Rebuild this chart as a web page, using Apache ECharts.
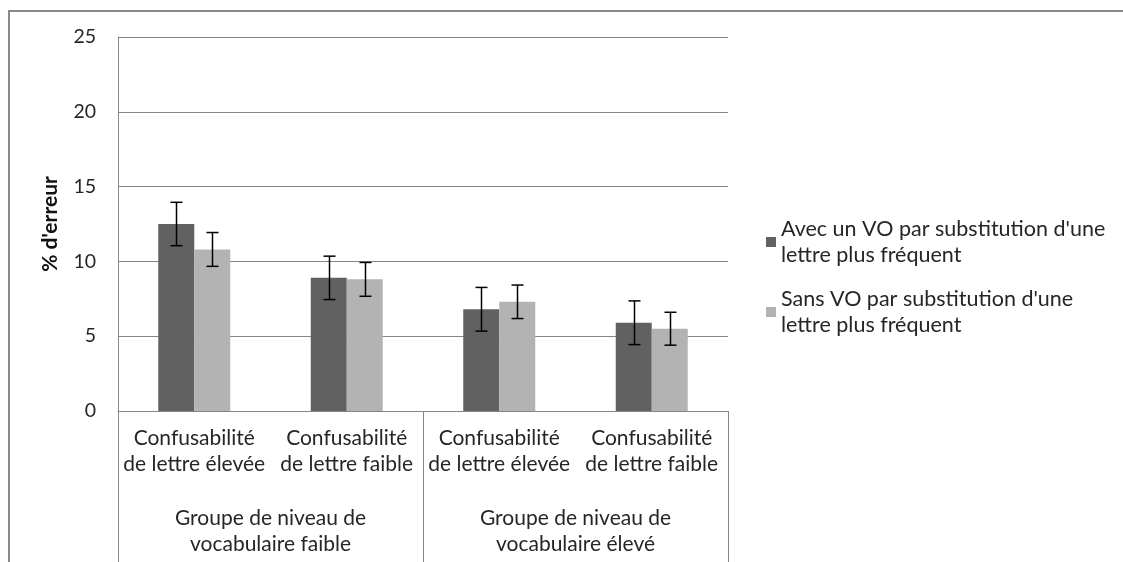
<!DOCTYPE html>
<html>
<head>
<meta charset="utf-8">
<script src="https://cdn.jsdelivr.net/npm/echarts@6/dist/echarts.min.js"></script>
<style>
html,body{margin:0;padding:0;background:#fff;}
#c{width:1123px;height:562px;}
</style>
</head>
<body>
<div id="c"></div>
<script>
const categories = ['Confusabilité\nde lettre élevée', 'Confusabilité\nde lettre faible', 'Confusabilité\nde lettre élevée', 'Confusabilité\nde lettre faible'];
const groups = ['Groupe de niveau de\nvocabulaire faible', 'Groupe de niveau de\nvocabulaire élevé'];
const seriesNames = ["Avec un VO par substitution d'une lettre plus fréquent", "Sans VO par substitution d'une lettre plus fréquent"];
const valuesA = [12.5, 8.9, 6.8, 5.9];
const errorA = [1.45, 1.45, 1.46, 1.46];
const valuesB = [10.8, 8.8, 7.3, 5.5];
const errorB = [1.13, 1.13, 1.12, 1.1];
const yTicks = [0, 5, 10, 15, 20, 25];

const FONT = 'Lato';
const BAR_W = 36;
const GRAY = '#868686';
const TXT = '#262626';
const colors = ['#616161', '#b3b3b3'];

function errData(vals, errs) {
  return vals.map((v, i) => [i, v - errs[i], v + errs[i]]);
}
function errSeries(vals, errs, offset) {
  return {
    type: 'custom',
    z: 10,
    silent: true,
    data: errData(vals, errs),
    encode: { x: 0, y: [1, 2] },
    renderItem: function (params, api) {
      const lo = api.coord([api.value(0), api.value(1)]);
      const hi = api.coord([api.value(0), api.value(2)]);
      const x = Math.round(lo[0] + offset) + 0.5;
      const cap = 6;
      const st = { stroke: '#000', lineWidth: 1.5 };
      return {
        type: 'group',
        children: [
          { type: 'line', shape: { x1: x, y1: hi[1], x2: x, y2: lo[1] }, style: st },
          { type: 'line', shape: { x1: x - cap, y1: hi[1], x2: x + cap, y2: hi[1] }, style: st },
          { type: 'line', shape: { x1: x - cap, y1: lo[1], x2: x + cap, y2: lo[1] }, style: st }
        ]
      };
    }
  };
}
function wrapName(n) {
  return n.replace(" lettre", "\nlettre");
}

const chart = echarts.init(document.getElementById('c'), null, { renderer: 'canvas' });
chart.setOption({
  animation: false,
  backgroundColor: '#fff',
  textStyle: { fontFamily: FONT },
  grid: { left: 118, right: 395, top: 37, bottom: 151, containLabel: false },
  graphic: [{
    type: 'rect', silent: true,
    shape: { x: 9, y: 11, width: 1200, height: 700 },
    style: { fill: 'none', stroke: '#8a8a8a', lineWidth: 2 }
  }],
  legend: seriesNames.map((n, i) => ({
    data: [n],
    orient: 'vertical',
    left: 766,
    top: [203, 273][i],
    padding: 0,
    itemWidth: 10,
    itemHeight: 10,
    icon: 'rect',
    selectedMode: false,
    formatter: wrapName,
    textStyle: { fontFamily: FONT, fontSize: 21.5, lineHeight: 26, color: TXT, padding: [26, 0, 0, 0] }
  })),
  xAxis: [{
    type: 'category',
    data: categories,
    axisLine: { show: true, lineStyle: { color: GRAY, width: 1 } },
    axisTick: { show: false },
    axisLabel: { interval: 0, margin: 14, fontFamily: FONT, fontSize: 21, lineHeight: 26, color: TXT }
  }, {
    type: 'category',
    data: groups,
    position: 'bottom',
    axisLine: { show: false },
    axisTick: { show: true, length: 152, lineStyle: { color: GRAY, width: 1 } },
    axisLabel: { interval: 0, margin: 94, fontFamily: FONT, fontSize: 21, lineHeight: 26, color: TXT }
  }],
  yAxis: {
    type: 'value',
    min: 0, max: 25, interval: 5,
    name: "% d'erreur",
    nameLocation: 'middle',
    nameRotate: 90,
    nameGap: 57,
    nameTextStyle: { fontFamily: FONT, fontSize: 21, fontWeight: 'bold', color: '#111' },
    axisLine: { show: true, lineStyle: { color: GRAY, width: 1 } },
    axisTick: { show: false },
    splitLine: { show: true, lineStyle: { color: GRAY, width: 1 } },
    axisLabel: {
      margin: 22, fontFamily: FONT, fontSize: 19.5, color: TXT,
      formatter: v => (yTicks.indexOf(v) >= 0 ? String(v) : '')
    }
  },
  series: [
    { name: seriesNames[0], type: 'bar', data: valuesA, barWidth: BAR_W, barGap: '0%', itemStyle: { color: colors[0] } },
    { name: seriesNames[1], type: 'bar', data: valuesB, barWidth: BAR_W, barGap: '0%', itemStyle: { color: colors[1] } },
    errSeries(valuesA, errorA, -BAR_W / 2),
    errSeries(valuesB, errorB, BAR_W / 2)
  ]
});
</script>
</body>
</html>
